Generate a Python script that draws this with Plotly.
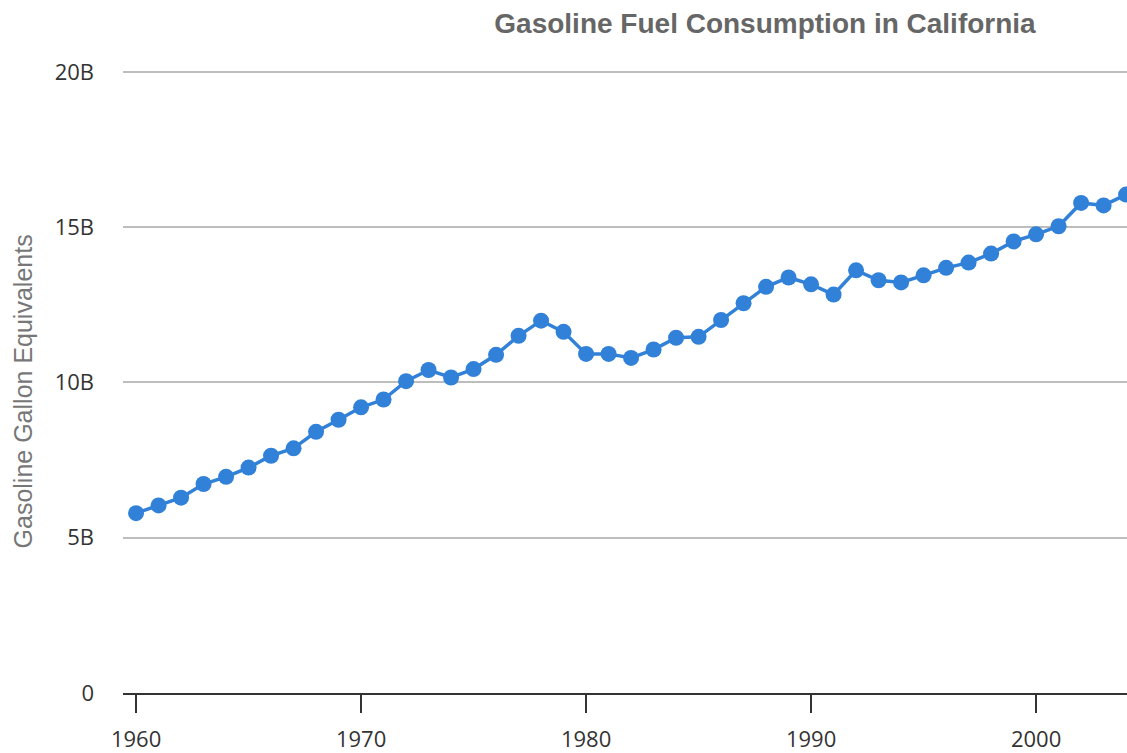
import plotly.graph_objects as go

years = list(range(1960, 2005))
consumption_b = [5.79, 6.04, 6.29, 6.73, 6.96, 7.26, 7.64, 7.88, 8.41, 8.80,
                 9.20, 9.45, 10.04, 10.40, 10.16, 10.43, 10.89, 11.50, 11.99, 11.63,
                 10.92, 10.92, 10.79, 11.06, 11.44, 11.47, 12.01, 12.55, 13.08, 13.38,
                 13.16, 12.83, 13.61, 13.29, 13.22, 13.45, 13.69, 13.86, 14.15, 14.54,
                 14.77, 15.03, 15.78, 15.70, 16.05]
y_tickvals = [0, 5e9, 10e9, 15e9, 20e9]
y_ticktext = ["0", "5B", "10B", "15B", "20B"]
x_tickvals = [1960, 1970, 1980, 1990, 2000]
x_ticktext = ["1960", "1970", "1980", "1990", "2000"]

values = [v * 1e9 for v in consumption_b]

fig = go.Figure()
fig.add_trace(go.Scatter(
    x=years, y=values, mode="lines+markers",
    line=dict(color="#3181d9", width=3.5),
    marker=dict(color="#3181d9", size=16),
    hoverinfo="x+y",
))

fig.update_layout(
    width=1127, height=753,
    margin=dict(l=123, r=0, t=66, b=57, pad=0),
    paper_bgcolor="white", plot_bgcolor="white",
    showlegend=False,
    title=dict(text="<b>Gasoline Fuel Consumption in California</b>",
               x=765/1127, xanchor="center", xref="container",
               y=1 - 23/753, yanchor="middle", yref="container",
               font=dict(family="Liberation Sans, Arial", size=28, color="#666666")),
    xaxis=dict(range=[1959.42, 2004.04], tickvals=x_tickvals, ticktext=x_ticktext,
               showgrid=False, zeroline=False,
               showline=True, linecolor="#333333", linewidth=2,
               ticks="outside", ticklen=18, tickwidth=2, tickcolor="#333333",
               ticklabelstandoff=8,
               tickfont=dict(family="Open Sans", size=22, color="#333333")),
    yaxis=dict(range=[0, 20.19e9], tickvals=y_tickvals, ticktext=y_ticktext,
               showgrid=True, gridcolor="#bdbdbd", gridwidth=2,
               zeroline=False, showline=False, ticks="",
               ticklabelstandoff=28,
               tickfont=dict(family="Open Sans", size=22, color="#333333")),
    annotations=[dict(text="Gasoline Gallon Equivalents", textangle=-90,
                      xref="paper", yref="paper",
                      x=-100/1004, y=(753 - 57 - 393) / 630,
                      xanchor="center", yanchor="middle", showarrow=False,
                      font=dict(family="Liberation Sans, Arial", size=25, color="#777777"))],
)

fig.write_html("out.html", config={"displayModeBar": False},
               post_script="document.body.style.margin='0';")
